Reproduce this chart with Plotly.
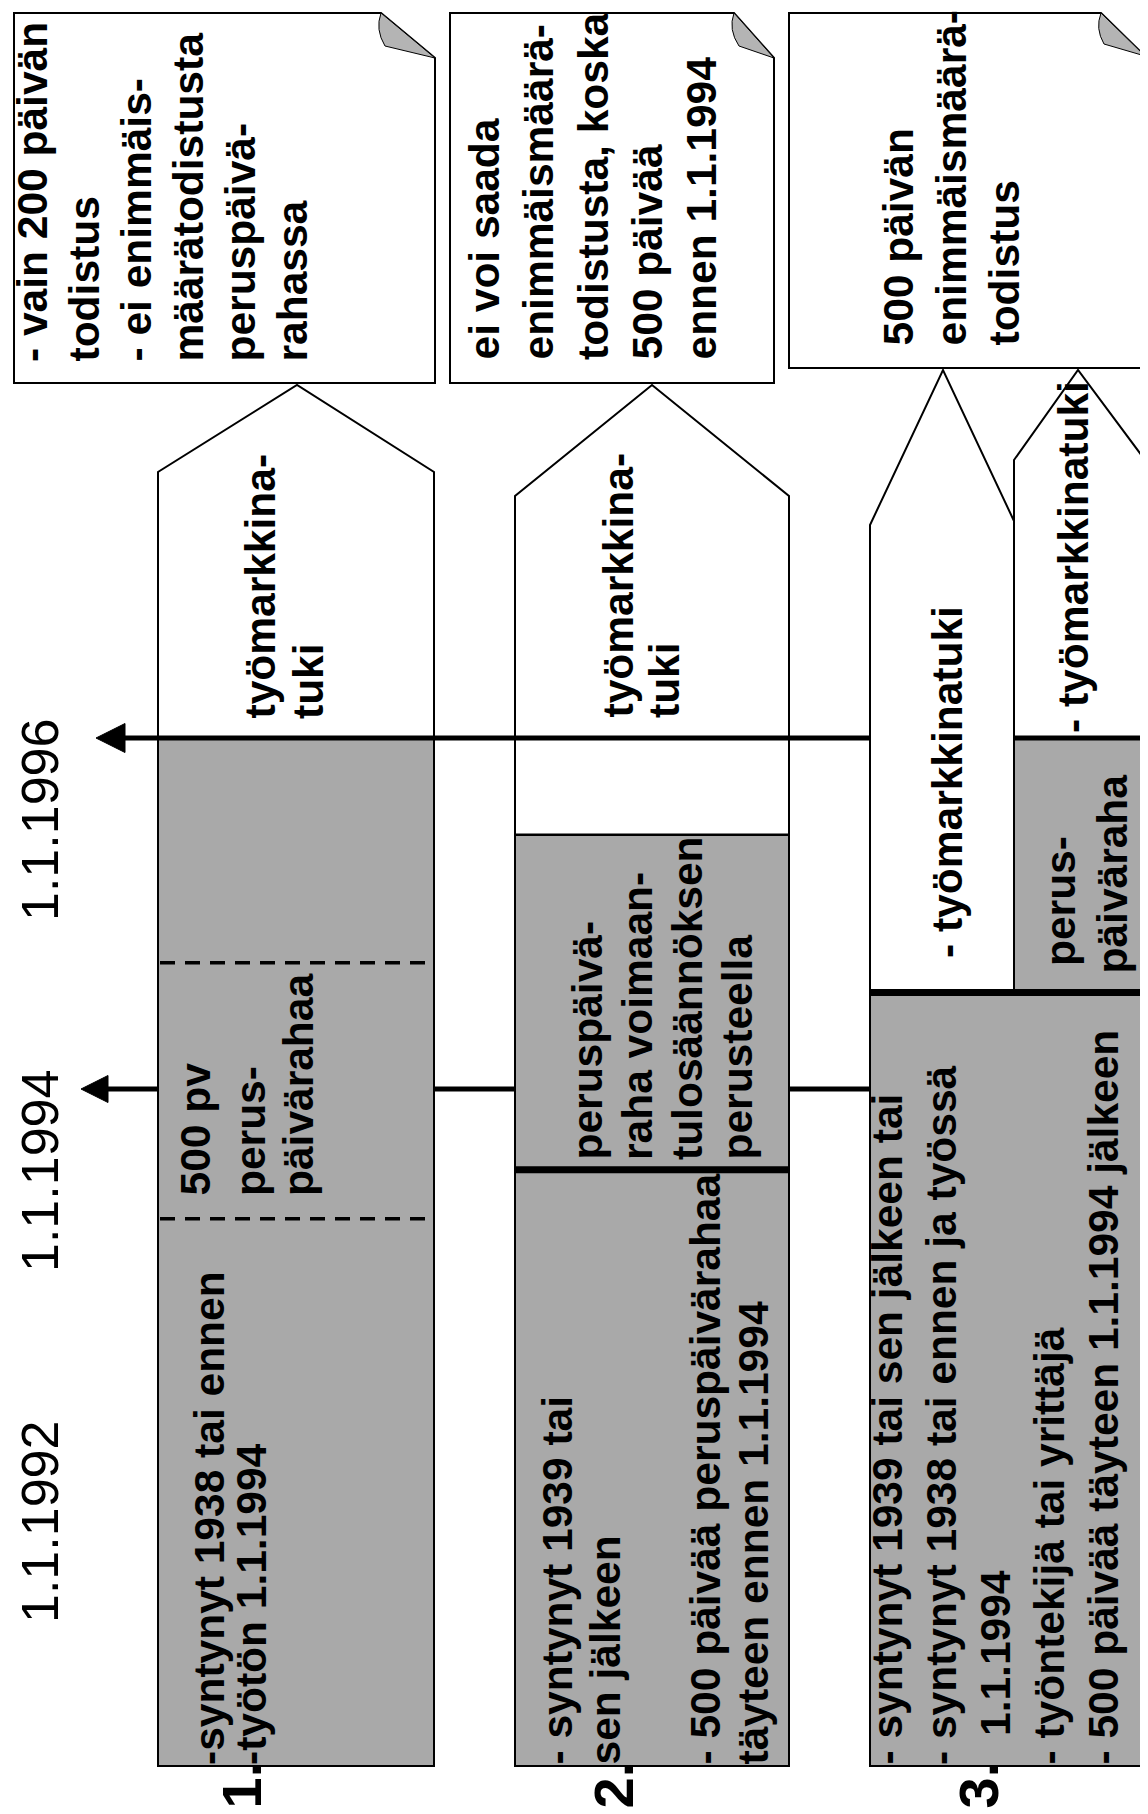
import plotly.graph_objects as go

W, H = 1148, 1814

# ---------------- data ----------------
group_labels = ["1.", "2.", "3."]
date_years = [1992, 1994, 1996]
date_labels = ["1.1.1992", "1.1.1994", "1.1.1996"]
arrow_years = [1994, 1996]
timeline_start = 1990.14

# grey (benefit) segments: column key, start year, end year
seg_col = ["1", "2", "2", "3", "3R"]
seg_start = [1990.14, 1990.14, 1993.54, 1990.14, 1994.55]
seg_end = [1996.0, 1993.54, 1995.45, 1994.55, 1996.0]

# "500 pv" window in column 1 (dashed lines)
dash_years = [1993.26, 1994.72]
# thick divider lines: column key, year
divider_col = ["2", "3"]
divider_years = [1993.54, 1994.55]
# white (työmarkkinatuki) part starts at these years
white_col = ["1", "2", "3L", "3R"]
white_start = [1996.0, 1995.45, 1994.55, 1996.0]

# ---------------- layout geometry (pixels) ----------------
PX_PER_YEAR = 175.5
Y_MAX = 1996 + 730 / PX_PER_YEAR
Y_MIN = Y_MAX - H / PX_PER_YEAR


def yp(px):
    return Y_MAX - px / PX_PER_YEAR


COLX = {"1": (150, 426), "2": (507, 781), "3": (862, 1137),
        "3L": (862, 1006), "3R": (1006, 1137)}
# pentagon tops: left shoulder px, right shoulder px, peak x, peak y
PENT = {"1": (464, 464, 289, 377), "2": (488, 488, 644, 377),
        "3L": (517, 513, 935, 362), "3R": (452, 452, 1070, 362)}
# callouts: l, r, t, b, fold x, fold y, curl x, curl y
CALLOUTS = [(6, 427, 5, 375, 373, 50, 377, 38),
            (442, 766, 5, 375, 726, 50, 731, 38),
            (781, 1137, 5, 360, 1093, 48, 1096, 36)]

GRAY = "#a9a9a9"
FONT = "Liberation Sans, Arial, sans-serif"
BODY = 42.5
X_ADJ = -5

fig = go.Figure()

# grey bars through the time scale
for c, s, e in zip(seg_col, seg_start, seg_end):
    l, r = COLX[c]
    fig.add_trace(go.Bar(
        x=[(l + r) / 2], y=[e - s], base=[s], width=[r - l],
        marker=dict(color=GRAY, line=dict(color="black", width=2)),
        showlegend=False, hoverinfo="skip"))

shapes = []

# 1.1.1994 line (behind the columns)
shapes.append(dict(type="line", xref="x", yref="y", x0=98, x1=862,
                   y0=arrow_years[0], y1=arrow_years[0],
                   line=dict(color="black", width=5), layer="below"))

# white pentagons
for c, b in zip(white_col, white_start):
    l, r = COLX[c]
    sl, sr, pxx, pyy = PENT[c]
    path = (f"M {l},{b} L {l},{yp(sl)} L {pxx},{yp(pyy)} "
            f"L {r},{yp(sr)} L {r},{b} Z")
    shapes.append(dict(type="path", xref="x", yref="y", path=path,
                       fillcolor="white", line=dict(color="black", width=2)))

# callout boxes with folded corner
for (l, r, t, b, fx, fy, cx, cy) in CALLOUTS:
    path = (f"M {l},{yp(t)} L {fx},{yp(t)} L {r},{yp(fy)} "
            f"L {r},{yp(b)} L {l},{yp(b)} Z")
    shapes.append(dict(type="path", xref="x", yref="y", path=path,
                       fillcolor="white", line=dict(color="black", width=2)))
    flap = (f"M {fx},{yp(t)} Q {fx - 6},{yp((t + cy) / 2)} {cx},{yp(cy)} "
            f"L {r},{yp(fy)} Z")
    shapes.append(dict(type="path", xref="x", yref="y", path=flap,
                       fillcolor="#b4b4b4", line=dict(color="black", width=1)))

# dashed lines in column 1
for dy in dash_years:
    l, r = COLX["1"]
    shapes.append(dict(type="line", xref="x", yref="y", x0=l + 2, x1=r - 2,
                       y0=dy, y1=dy,
                       line=dict(color="black", width=3.5, dash="15px,10px")))

# thick dividers
for c, dy in zip(divider_col, divider_years):
    l, r = COLX[c]
    shapes.append(dict(type="line", xref="x", yref="y", x0=l, x1=r,
                       y0=dy, y1=dy, line=dict(color="black", width=7)))

# 1.1.1996 line (over columns, under the column-3 left box)
y96 = arrow_years[1]
shapes.append(dict(type="line", xref="x", yref="y", x0=112, x1=862,
                   y0=y96, y1=y96, line=dict(color="black", width=5)))
shapes.append(dict(type="line", xref="x", yref="y", x0=1006, x1=W,
                   y0=y96, y1=y96, line=dict(color="black", width=5)))

# arrow heads
for ay, tip, back, half in [(arrow_years[0], 73, 100, 13.5),
                            (arrow_years[1], 88, 117, 14.5)]:
    dy = half / PX_PER_YEAR
    shapes.append(dict(type="path", xref="x", yref="y",
                       path=f"M {tip},{ay} L {back},{ay + dy} L {back},{ay - dy} Z",
                       fillcolor="black", line=dict(color="black", width=1)))

annotations = []


def add_lines(lines, xs, bottoms, size=BODY, bold=True):
    if not isinstance(bottoms, (list, tuple)):
        bottoms = [bottoms] * len(lines)
    for t, x, b in zip(lines, xs, bottoms):
        annotations.append(dict(
            x=x + X_ADJ, y=yp(b), xref="x", yref="y",
            text=(f"<b>{t}</b>" if bold else t),
            textangle=-90, xanchor="center", yanchor="bottom",
            showarrow=False, borderpad=0, borderwidth=0,
            font=dict(family=FONT, size=size, color="black")))


# callout texts
callout1_lines = ["- vain 200 päivän", "todistus", "- ei enimmäis-",
                  "määrätodistusta", "peruspäivä-", "rahassa"]
callout2_lines = ["ei voi saada", "enimmäismäärä-", "todistusta, koska",
                  "500 päivää", "ennen 1.1.1994"]
callout3_lines = ["500 päivän", "enimmäismäärä-", "todistus"]
add_lines(callout1_lines, [29, 81, 133, 185, 237, 289], 354)
add_lines(callout2_lines, [481, 535, 590, 644, 698], 352)
add_lines(callout3_lines, [895, 948, 1001], 338)

# white (labour market support) texts
tuki_lines = ["työmarkkina-", "tuki"]
add_lines(tuki_lines, [257, 305], 711)
add_lines(tuki_lines, [615, 661], 710)
add_lines(["- työmarkkinatuki"], [944], 950)
add_lines(["- työmarkkinatuki"], [1070], 725)

# grey texts
add_lines(["perus-", "päiväraha"], [1057, 1109], [958, 966])
add_lines(["500 pv", "perus-", "päivärahaa"], [192, 247, 295], 1188)
add_lines(["-syntynyt 1938 tai ennen", "-työtön 1.1.1994"], [206, 248], 1757)
add_lines(["peruspäivä-", "raha voimaan-", "tulosäännöksen", "perusteella"],
          [584, 634, 684, 734], 1152)
add_lines(["- syntynyt 1939 tai", "sen jälkeen",
           "- 500 päivää peruspäivärahaa", "täyteen ennen 1.1.1994"],
          [554, 602, 702, 750], 1757)
add_lines(["- syntynyt 1939 tai sen jälkeen tai",
           "- syntynyt 1938 tai ennen ja työssä", "1.1.1994",
           "- työntekijä tai yrittäjä",
           "- 500 päivää täyteen 1.1.1994 jälkeen"],
          [884, 938, 992, 1046, 1100], [1757, 1757, 1728, 1757, 1757])

# date labels on the time axis
for yr, lab in zip(date_years, date_labels):
    annotations.append(dict(
        x=32, y=yr, xref="x", yref="y", yshift=-183, text=lab,
        textangle=-90, xanchor="center", yanchor="bottom", showarrow=False,
        borderpad=0, borderwidth=0,
        font=dict(family=FONT, size=52, color="black")))

# group labels
for g, gx in zip(group_labels, [233, 605, 970]):
    annotations.append(dict(
        x=gx, y=yp(1801), xref="x", yref="y", text=f"<b>{g}</b>",
        textangle=-90, xanchor="center", yanchor="bottom", showarrow=False,
        borderpad=0, borderwidth=0,
        font=dict(family=FONT, size=56, color="black")))

fig.update_layout(
    width=W, height=H, autosize=False,
    margin=dict(l=0, r=0, t=0, b=0, pad=0),
    paper_bgcolor="white", plot_bgcolor="white",
    barmode="overlay", bargap=0,
    shapes=shapes, annotations=annotations,
    xaxis=dict(range=[0, W], visible=False, fixedrange=True),
    yaxis=dict(range=[Y_MIN, Y_MAX], visible=False, fixedrange=True),
    showlegend=False,
)

fig.write_html("out.html", config={"displayModeBar": False})
